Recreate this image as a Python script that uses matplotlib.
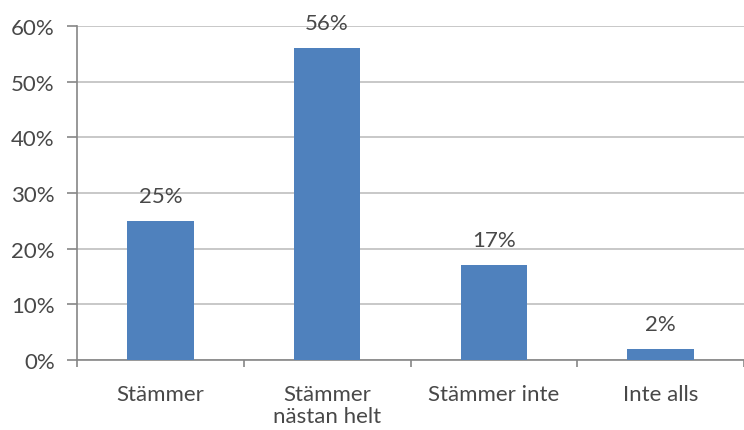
import matplotlib
matplotlib.use("Agg")
import matplotlib.pyplot as plt
from matplotlib.ticker import FuncFormatter, FixedLocator

categories = ["Stämmer", "Stämmer\nnästan helt", "Stämmer inte", "Inte alls"]
values = [25, 56, 17, 2]
yticks = [0, 10, 20, 30, 40, 50, 60]

bar_color = "#4F81BD"
text_color = "#484848"
grid_color = "#BFBFBF"
axis_color = "#868686"
fsize = 16

plt.rcParams["font.family"] = ["Lato", "DejaVu Sans"]

fig = plt.figure(figsize=(7.44, 4.31), dpi=100)
ax = fig.add_axes([0.1035, 0.1624, 0.8965, 0.775])

x = list(range(len(categories)))
bars = ax.bar(x, values, width=0.4, color=bar_color, zorder=3)

for xi, v in zip(x, values):
    ax.annotate(f"{v}%", (xi, v), xytext=(0, 18), textcoords="offset points",
                ha="center", va="center", fontsize=fsize, color=text_color)

ax.set_xlim(-0.5, len(categories) - 0.5)
ax.set_ylim(0, 60)
ax.set_yticks(yticks)
ax.yaxis.set_major_formatter(FuncFormatter(lambda v, p: f"{int(v)}%"))
ax.grid(axis="y", color=grid_color, linewidth=1.2, zorder=0)

# category labels centered, tick marks between categories
ax.set_xticks(x)
ax.set_xticklabels(categories, fontsize=fsize, color=text_color, linespacing=1.15)
ax.tick_params(axis="x", length=0, pad=17)
ax.xaxis.set_minor_locator(FixedLocator([i - 0.5 for i in range(len(categories) + 1)]))
ax.tick_params(axis="x", which="minor", length=5, color=axis_color, width=1.2)
ax.tick_params(axis="y", length=7, color=axis_color, width=1.2,
               labelsize=fsize, labelcolor=text_color, pad=9)

for side in ["top", "right"]:
    ax.spines[side].set_visible(False)
for side in ["left", "bottom"]:
    ax.spines[side].set_color(axis_color)
    ax.spines[side].set_linewidth(1.2)

fig.savefig("out.png", dpi=100)
